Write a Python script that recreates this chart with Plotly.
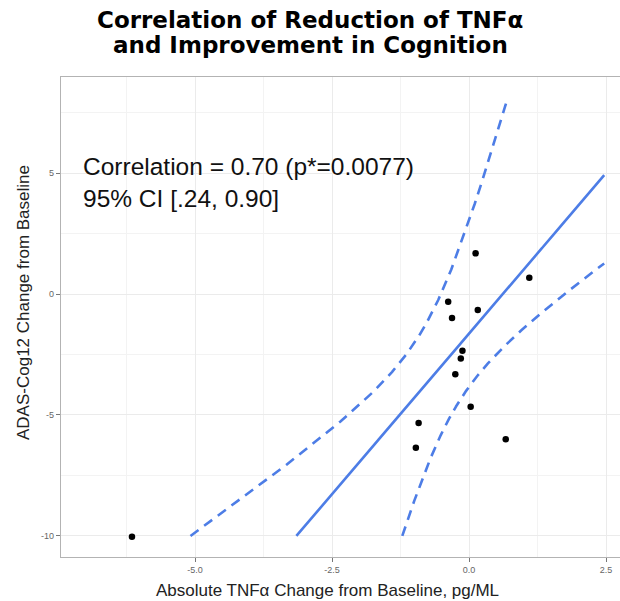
import numpy as np
import plotly.graph_objects as go

# Data
tnf_change = [0.12, 1.10, -0.38, 0.16, -0.31, -0.12, -0.15, -0.25, 0.03, -0.92, 0.67, -0.97, -6.15]
adas_change = [1.68, 0.67, -0.32, -0.66, -0.99, -2.34, -2.67, -3.32, -4.66, -5.33, -6.00, -6.35, -10.03]

x_ticks = [-5.0, -2.5, 0.0, 2.5]
x_tick_labels = ["-5.0", "-2.5", "0.0", "2.5"]
y_ticks = [-10, -5, 0, 5]
y_tick_labels = ["-10", "-5", "0", "5"]

title_lines = ["Correlation of Reduction of TNFα", "and Improvement in Cognition"]
annot_text = "Correlation = 0.70 (p*=0.0077)<br>95% CI [.24, 0.90]"
x_title = "Absolute TNFα Change from Baseline, pg/ML"
y_title = "ADAS-Cog12 Change from Baseline"

# Linear fit of TNF change on ADAS change with 95% confidence band
x = np.array(tnf_change)
y = np.array(adas_change)
n = len(x)
b = np.sum((y - y.mean()) * (x - x.mean())) / np.sum((y - y.mean()) ** 2)
a = x.mean() - b * y.mean()
resid = x - (a + b * y)
s = np.sqrt(np.sum(resid ** 2) / (n - 2))
t_crit = 2.200985  # t(0.975, df=11)
ygrid = np.linspace(-10, 8, 2000)
fit = a + b * ygrid
se = s * np.sqrt(1 / n + (ygrid - y.mean()) ** 2 / np.sum((y - y.mean()) ** 2))
lo = fit - t_crit * se
hi = fit + t_crit * se
x_limit = 2.47

def clip(xs):
    xs = xs.copy()
    xs[xs > x_limit] = np.nan
    return xs

blue = "#4d7de6"
fig = go.Figure()
for xs, dash in [(clip(lo), "dash"), (clip(hi), "dash"), (clip(fit), "solid")]:
    fig.add_trace(go.Scatter(x=xs, y=ygrid, mode="lines",
                             line=dict(color=blue, width=2.6, dash="10px,7px" if dash == "dash" else "solid"),
                             showlegend=False, hoverinfo="skip"))
fig.add_trace(go.Scatter(x=tnf_change, y=adas_change, mode="markers",
                         marker=dict(color="black", size=6.5), showlegend=False))

grid = "#ebebeb"
border = "#b3b3b3"
font_main = "Liberation Sans, Arial, sans-serif"
annotations = [
    dict(text="<b>" + title_lines[0] + "</b>", xref="paper", yref="paper", x=(310 - 61) / 559, y=(557 - 20) / 480,
         xanchor="center", yanchor="middle", showarrow=False,
         font=dict(size=23, color="black", family="DejaVu Sans, sans-serif")),
    dict(text="<b>" + title_lines[1] + "</b>", xref="paper", yref="paper", x=(310 - 61) / 559, y=(557 - 45) / 480,
         xanchor="center", yanchor="middle", showarrow=False,
         font=dict(size=23, color="black", family="DejaVu Sans, sans-serif")),
    dict(text=annot_text, xref="paper", yref="paper", x=(81 - 61) / 559, y=(557 - 182) / 480,
         xanchor="left", yanchor="middle", showarrow=False, align="left",
         font=dict(size=24.5, color="#111", family=font_main)),
    dict(text=x_title, xref="paper", yref="paper", x=(327 - 61) / 559, y=(557 - 590) / 480,
         xanchor="center", yanchor="middle", showarrow=False,
         font=dict(size=17, color="#222", family=font_main)),
    dict(text=y_title, xref="paper", yref="paper", x=(23 - 61) / 559, y=(557 - 303) / 480,
         xanchor="center", yanchor="middle", showarrow=False, textangle=-90,
         font=dict(size=17, color="#222", family=font_main)),
]

fig.update_layout(
    width=620, height=601,
    margin=dict(l=61, r=0, t=77, b=44),
    paper_bgcolor="white", plot_bgcolor="white",
    font=dict(family=font_main),
    xaxis=dict(range=[-7.445, 2.755], tickvals=x_ticks, ticktext=x_tick_labels,
               showgrid=True, gridcolor=grid, gridwidth=1,
               minor=dict(dtick=1.25, tick0=0, showgrid=True, gridcolor="#f3f3f3", gridwidth=1),
               zeroline=False, showline=True, linecolor=border, linewidth=1.3, mirror=True,
               ticks="outside", ticklen=4, tickcolor="#777", tickwidth=1,
               tickfont=dict(size=9, color="#666")),
    yaxis=dict(range=[-10.87, 8.97], tickvals=y_ticks, ticktext=y_tick_labels,
               showgrid=True, gridcolor=grid, gridwidth=1,
               minor=dict(dtick=2.5, tick0=0, showgrid=True, gridcolor="#f3f3f3", gridwidth=1),
               zeroline=False, showline=True, linecolor=border, linewidth=1.3, mirror=True,
               ticks="outside", ticklen=4, tickcolor="#777", tickwidth=1,
               tickfont=dict(size=9, color="#666")),
    annotations=annotations,
)
fig.write_html("out.html")
